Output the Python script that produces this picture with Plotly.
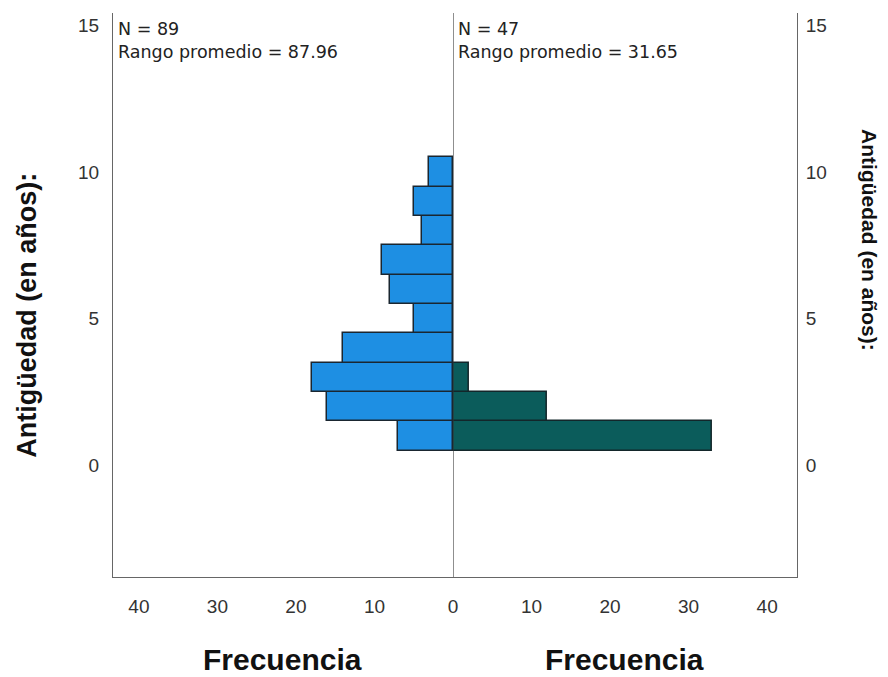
import plotly.graph_objects as go

# Data (bins centred on whole years)
years_left = [1, 2, 3, 4, 5, 6, 7, 8, 9, 10]
freq_left = [7, 16, 18, 14, 5, 8, 9, 4, 5, 3]
years_right = [1, 2, 3]
freq_right = [33, 12, 2]

x_ticks_left = [40, 30, 20, 10, 0]
x_ticks_right = [10, 20, 30, 40]
y_ticks = [0, 5, 10, 15]

n_left = "N = 89"
rank_left = "Rango promedio = 87.96"
n_right = "N = 47"
rank_right = "Rango promedio = 31.65"
ytitle = "Antigüedad (en años):"
xtitle = "Frecuencia"

FONT = "Arial, Liberation Sans, sans-serif"
AX = "#666666"
TXT = "#333333"

fig = go.Figure()
fig.add_trace(go.Bar(
    y=years_left, x=freq_left, orientation="h", width=1,
    marker=dict(color="#1E8FE3", line=dict(color="#1a2630", width=1.5)),
    xaxis="x", yaxis="y", showlegend=False))
fig.add_trace(go.Bar(
    y=years_right, x=freq_right, orientation="h", width=1,
    marker=dict(color="#0B5C5B", line=dict(color="#13262a", width=1.5)),
    xaxis="x2", yaxis="y2", showlegend=False))

tickfont = dict(family=FONT, size=19, color=TXT)

fig.update_layout(
    width=888, height=677,
    margin=dict(l=113, r=91, t=13, b=100),
    paper_bgcolor="white", plot_bgcolor="white",
    bargap=0,
    xaxis=dict(domain=[0, 0.497], range=[43.3, 0], tickvals=x_ticks_left,
               showgrid=False, zeroline=False, showline=True, linecolor=AX,
               linewidth=1, ticks="", tickfont=tickfont, ticklabelstandoff=12,
               anchor="y"),
    xaxis2=dict(domain=[0.497, 1], range=[0, 43.8], tickvals=x_ticks_right,
                showgrid=False, zeroline=False, showline=True, linecolor=AX,
                linewidth=1, ticks="", tickfont=tickfont, ticklabelstandoff=12,
                anchor="y2"),
    yaxis=dict(range=[-3.8, 15.42], tickvals=y_ticks, showgrid=False,
               zeroline=False, showline=True, linecolor=AX, linewidth=1,
               ticks="", tickfont=tickfont, ticklabelstandoff=9, anchor="x",
               side="left"),
    yaxis2=dict(range=[-3.8, 15.42], tickvals=y_ticks, showgrid=False,
                zeroline=False, showline=True, linecolor=AX, linewidth=1,
                ticks="", tickfont=tickfont, ticklabelstandoff=4, anchor="x2",
                side="right", matches="y"),
)

# centre divider
fig.add_shape(type="line", xref="x2", yref="paper", x0=0, x1=0, y0=0, y1=1,
              line=dict(color="#333333", width=1.2))

ann_font = dict(family="DejaVu Sans, sans-serif", size=17.5, color="#222222")
for xp, t1, t2 in [(0.004, n_left, rank_left), (0.501, n_right, rank_right)]:
    fig.add_annotation(xref="paper", yref="paper", x=xp, y=0.993,
                       xanchor="left", yanchor="top", align="left",
                       text=t1 + "<br>" + t2,
                       showarrow=False, font=ann_font)

xt_font = dict(family=FONT, size=30, color="#111111")
for xp in [0.2485, 0.7485]:
    fig.add_annotation(xref="paper", yref="paper", x=xp, y=-0.146,
                       xanchor="center", yanchor="middle",
                       text="<b>" + xtitle + "</b>", showarrow=False,
                       font=xt_font)

fig.add_annotation(xref="paper", yref="paper", x=-0.127, y=0.4636,
                   xanchor="center", yanchor="middle",
                   text="<b>" + ytitle + "</b>", textangle=-90, showarrow=False,
                   font=dict(family=FONT, size=27, color="#111111"))
fig.add_annotation(xref="paper", yref="paper", x=1.107, y=0.597,
                   xanchor="center", yanchor="middle",
                   text="<b>" + ytitle + "</b>", textangle=90, showarrow=False,
                   font=dict(family=FONT, size=21, color="#111111"))

fig.write_html("out.html")
